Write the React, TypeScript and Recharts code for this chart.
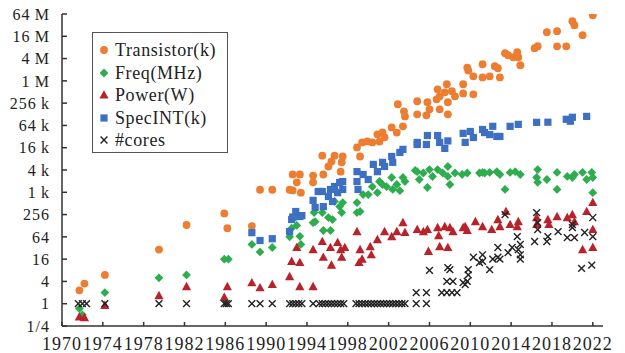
import type { ReactElement } from "react";
import { Legend, Scatter, ScatterChart, XAxis, YAxis } from "recharts";

// Microprocessor trend data.
// Each point is [year, value]; the y axis is log scale (base 2 ticks).
type Pt = [number, number];

const X_TICKS = [1970, 1974, 1978, 1982, 1986, 1990, 1994, 1998, 2002, 2006, 2010, 2014, 2018, 2022];

const Y_TICKS = [
  0.25, 1, 4, 16, 64, 256, 1024, 4096, 16384, 65536, 262144, 1048576, 4194304, 16777216, 67108864,
];
const Y_LABELS = [
  "1/4", "1", "4", "16", "64", "256",
  "1\u2009k", "4\u2009k", "16\u2009k", "64\u2009k", "256\u2009k",
  "1\u2009M", "4\u2009M", "16\u2009M", "64\u2009M",
];

const TRANSISTOR_K: Pt[] = [
  [1971.7, 2.3], [1972.2, 3.5], [1974.2, 6], [1979.5, 29], [1982.2, 134],
  [1985.9, 275], [1986.2, 110], [1988.6, 125], [1989.4, 1200], [1990.6, 1200],
  [1992.3, 1200], [1992.6, 1150], [1992.6, 3100], [1993.3, 3100], [1993.0, 1900],
  [1993.4, 1000], [1994.6, 2900], [1994.6, 1900], [1995.5, 10000], [1995.6, 3100],
  [1996.1, 5100], [1996.4, 7000], [1996.7, 10000], [1997.4, 6600], [1997.5, 9500],
  [1997.3, 3700], [1998.9, 16700], [1999.2, 9500], [1999.4, 22800], [1999.9, 24300],
  [2000.4, 22800], [2000.9, 37600], [2001.1, 24000], [2001.4, 42600], [2001.6, 31200],
  [2002.3, 58000], [2002.8, 42000], [2003.4, 62000], [2002.9, 245000], [2003.5, 158000],
  [2003.6, 115000], [2004.8, 295000], [2004.8, 131000], [2005.7, 123000], [2005.8, 277000],
  [2006.0, 179000], [2006.7, 333000], [2006.8, 620000], [2007.0, 179000], [2007.0, 400000],
  [2007.7, 850000], [2007.5, 515000], [2007.8, 277000], [2007.8, 131000], [2008.2, 550000],
  [2008.5, 400000], [2009.3, 850000], [2009.3, 480000], [2010.3, 455000], [2009.7, 2400000],
  [2009.8, 2000000], [2010.3, 1390000], [2011.2, 1300000], [2011.2, 2950000], [2011.9, 1390000],
  [2012.4, 2600000], [2012.7, 2300000], [2012.9, 1300000], [2013.4, 5860000], [2013.7, 5160000],
  [2014.2, 4560000], [2014.6, 6240000], [2014.7, 4560000], [2014.9, 2770000], [2016.3, 8000000],
  [2016.6, 9050000], [2017.5, 21700000], [2018.5, 23100000], [2018.5, 9000000], [2019.4, 9000000],
  [2020.0, 43000000], [2020.2, 33500000], [2021.0, 18000000], [2022.0, 62000000],
];

const FREQ_MHZ: Pt[] = [
  [1971.7, 0.74], [1972.0, 0.5], [1974.2, 2], [1979.5, 5], [1982.2, 6],
  [1985.9, 16], [1986.3, 16], [1988.6, 40], [1989.4, 25], [1990.6, 33],
  [1992.3, 64], [1992.5, 110], [1992.9, 225], [1993.0, 130], [1993.3, 66],
  [1993.4, 40], [1994.6, 155], [1994.7, 290], [1994.8, 165], [1995.5, 290],
  [1995.6, 95], [1996.1, 212], [1996.3, 95], [1996.5, 188], [1996.7, 580],
  [1997.2, 420], [1997.4, 290], [1997.5, 540], [1998.9, 540], [1998.9, 290],
  [1999.2, 310], [1999.5, 890], [2000.0, 890], [2000.4, 1450], [2000.9, 1000],
  [2001.1, 2000], [2001.4, 1660], [2001.8, 1450], [2002.3, 2570], [2002.4, 1220],
  [2002.8, 1660], [2003.1, 1130], [2003.4, 2570], [2003.6, 2000], [2004.6, 4000],
  [2004.8, 3700], [2005.0, 2270], [2005.4, 3400], [2005.8, 1380], [2006.0, 4200],
  [2006.3, 2730], [2006.8, 4200], [2007.3, 3400], [2007.8, 5100], [2007.8, 2740],
  [2008.0, 1660], [2008.5, 3400], [2009.2, 3100], [2009.7, 3400], [2010.9, 3400],
  [2011.2, 3520], [2011.4, 3400], [2011.9, 3520], [2012.6, 3700], [2012.9, 3100],
  [2013.4, 1220], [2013.9, 3520], [2014.4, 3700], [2014.9, 3100], [2016.6, 4200],
  [2016.5, 2570], [2016.6, 1900], [2017.5, 2270], [2018.5, 3520], [2018.5, 1220],
  [2019.5, 2740], [2020.0, 2570], [2020.2, 3100], [2021.0, 3520], [2021.4, 2270],
  [2021.9, 3520], [2022.0, 2570], [2022.0, 1000],
];

const POWER_W: Pt[] = [
  [1971.7, 0.44], [1972.2, 0.42], [1974.2, 0.9], [1979.5, 1.65], [1982.2, 2.9],
  [1985.9, 1.5], [1986.2, 2.9], [1988.6, 3.7], [1989.4, 2.7], [1990.6, 3.3],
  [1992.3, 5.4], [1992.5, 14], [1993.0, 33], [1993.3, 13], [1993.3, 2.9],
  [1994.6, 29], [1994.6, 2.9], [1995.5, 48], [1995.6, 18], [1996.3, 33],
  [1996.4, 11], [1997.0, 45], [1997.3, 29], [1997.4, 18], [1997.7, 33],
  [1998.9, 89], [1999.2, 29], [1999.4, 16], [1999.1, 13], [2000.2, 35],
  [2000.3, 21], [2000.9, 54], [2001.6, 89], [2002.3, 65], [2002.8, 89],
  [2003.4, 156], [2003.6, 84], [2004.8, 101], [2005.4, 89], [2005.8, 101],
  [2005.9, 26], [2006.8, 114], [2006.9, 69], [2007.0, 35], [2007.5, 121],
  [2007.8, 33], [2008.0, 114], [2008.3, 89], [2009.3, 114], [2009.5, 121],
  [2009.7, 95], [2010.5, 166], [2011.2, 121], [2012.1, 101], [2012.7, 188],
  [2012.9, 121], [2013.5, 310], [2013.9, 138], [2014.6, 121], [2014.7, 166],
  [2016.5, 213], [2016.5, 138], [2017.6, 188], [2017.7, 138], [2018.5, 226],
  [2019.5, 213], [2020.0, 256], [2020.2, 166], [2021.0, 29], [2021.4, 310],
  [2022.0, 543], [2022.0, 101], [2022.0, 33],
];

const SPECINT_K: Pt[] = [
  [1988.6, 83], [1989.4, 51], [1990.6, 57], [1992.3, 89], [1992.5, 188],
  [1992.6, 220], [1992.9, 310], [1993.3, 226], [1993.5, 240], [1994.6, 620],
  [1994.8, 398], [1995.1, 1075], [1995.5, 1075], [1995.6, 420], [1996.1, 790],
  [1996.3, 1220], [1996.5, 577], [1996.7, 1470], [1997.0, 1000], [1997.2, 1890],
  [1997.5, 1220], [1997.5, 2000], [1998.9, 3700], [1998.9, 2000], [1999.0, 1220],
  [1999.5, 3100], [2000.0, 2270], [2000.5, 5800], [2000.9, 3700], [2001.4, 6600],
  [2001.6, 5100], [2002.3, 9500], [2002.4, 6600], [2003.1, 12200], [2003.4, 14800],
  [2004.8, 20000], [2004.8, 22800], [2005.7, 20000], [2005.8, 35000], [2006.8, 35000],
  [2007.0, 22800], [2007.5, 15700], [2007.8, 25000], [2009.3, 40000], [2009.5, 22800],
  [2010.0, 45000], [2010.3, 31000], [2011.2, 51000], [2011.4, 42000], [2011.9, 37000],
  [2012.2, 62000], [2012.6, 33000], [2012.9, 33000], [2013.9, 62000], [2014.7, 70000],
  [2016.5, 79500], [2017.6, 80000], [2019.4, 96000], [2019.8, 85000], [2020.0, 109000],
  [2021.4, 115000],
];

const CORES: Pt[] = [
  [1971.6, 1], [1972.0, 1], [1972.4, 1], [1974.2, 1], [1979.5, 1], [1982.2, 1],
  [1985.9, 1], [1986.1, 1], [1986.3, 1], [1988.6, 1], [1989.4, 1], [1990.6, 1],
  [1992.3, 1], [1992.6, 1], [1992.9, 1], [1993.2, 1], [1993.5, 1], [1994.6, 1],
  [1995.2, 1], [1995.5, 1], [1995.8, 1], [1996.1, 1], [1996.4, 1], [1996.7, 1],
  [1997.0, 1], [1997.3, 1], [1997.6, 1], [1998.8, 1], [1999.1, 1], [1999.4, 1],
  [1999.7, 1], [2000.0, 1], [2000.3, 1], [2000.6, 1], [2000.9, 1], [2001.2, 1],
  [2001.5, 1], [2001.8, 1], [2002.1, 1], [2002.4, 1], [2002.7, 1], [2003.0, 1],
  [2003.3, 1], [2003.6, 1], [2004.7, 1], [2005.7, 1],
  [2004.7, 2], [2005.7, 2], [2007.2, 2], [2007.7, 2], [2008.2, 2], [2008.7, 2],
  [2006.0, 8], [2007.8, 9.4], [2008.0, 8.3], [2007.7, 4], [2008.3, 4],
  [2009.3, 3.7], [2009.5, 3.3], [2009.7, 4], [2009.8, 6], [2009.8, 8.3],
  [2010.3, 18], [2010.9, 13], [2011.2, 21], [2011.2, 14], [2011.9, 8.3],
  [2012.2, 16], [2012.7, 33], [2012.7, 18], [2012.9, 16], [2013.4, 256],
  [2013.7, 24], [2014.1, 33], [2014.6, 65], [2014.9, 40], [2014.7, 29],
  [2014.9, 21], [2014.9, 16], [2016.5, 290], [2016.6, 156], [2016.6, 100],
  [2016.3, 48], [2017.6, 65], [2017.5, 48], [2018.6, 89], [2019.5, 61],
  [2020.0, 138], [2020.0, 114], [2020.2, 61], [2021.2, 84], [2022.0, 213],
  [2022.0, 65], [2020.9, 9], [2021.9, 11],
];

type Kind = "circle" | "diamond" | "triangle" | "square" | "cross";

const SERIES: { name: string; kind: Kind; color: string; data: Pt[] }[] = [
  { name: "Transistor(k)", kind: "circle", color: "#ED7D31", data: TRANSISTOR_K },
  { name: "Freq(MHz)", kind: "diamond", color: "#2EAD4E", data: FREQ_MHZ },
  { name: "Power(W)", kind: "triangle", color: "#B8222A", data: POWER_W },
  { name: "SpecINT(k)", kind: "square", color: "#3D6FC3", data: SPECINT_K },
  { name: "#cores", kind: "cross", color: "#222222", data: CORES },
];

const FONT = "'Liberation Serif', 'Times New Roman', serif";

function Marker({ kind, cx, cy, color }: { kind: Kind; cx: number; cy: number; color: string }): ReactElement {
  switch (kind) {
    case "circle":
      return <circle cx={cx} cy={cy} r={3.9} fill={color} />;
    case "diamond":
      return (
        <polygon
          points={`${cx},${cy - 4.4} ${cx + 4.4},${cy} ${cx},${cy + 4.4} ${cx - 4.4},${cy}`}
          fill={color}
        />
      );
    case "triangle":
      return (
        <polygon
          points={`${cx},${cy - 4.8} ${cx + 4.6},${cy + 3.6} ${cx - 4.6},${cy + 3.6}`}
          fill={color}
        />
      );
    case "square":
      return <rect x={cx - 3.6} y={cy - 3.6} width={7.2} height={7.2} fill={color} />;
    default:
      return (
        <g stroke={color} strokeWidth={1.4}>
          <line x1={cx - 3.4} y1={cy - 3.4} x2={cx + 3.4} y2={cy + 3.4} />
          <line x1={cx - 3.4} y1={cy + 3.4} x2={cx + 3.4} y2={cy - 3.4} />
        </g>
      );
  }
}

function LegendBox(): ReactElement {
  return (
    <div
      style={{
        border: "1px solid #555",
        background: "#fff",
        padding: "6px 0 0 0",
        width: 134,
        height: 113,
        fontFamily: FONT,
        fontSize: 18,
        letterSpacing: 0.6,
        color: "#222",
      }}
    >
      {SERIES.map((s) => (
        <div key={s.name} style={{ display: "flex", alignItems: "center", height: 22.5 }}>
          <svg width={22} height={14} style={{ flex: "none" }}>
            <Marker kind={s.kind} cx={11} cy={7} color={s.color} />
          </svg>
          <span style={{ lineHeight: "22px" }}>{s.name}</span>
        </div>
      ))}
    </div>
  );
}

export default function App(): ReactElement {
  const tickStyle = { fontFamily: FONT, fill: "#222" };
  return (
    <div style={{ position: "absolute", left: 0, top: 0, width: 625, height: 353, background: "#fff" }}>
      <ScatterChart width={625} height={353} margin={{ top: 14, right: 22, bottom: 0, left: 0 }}>
        <XAxis
          type="number"
          dataKey="year"
          domain={[1970, 2023]}
          ticks={X_TICKS}
          interval={0}
          allowDataOverflow
          height={27}
          tickSize={-4}
          tickMargin={15}
          stroke="#333"
          strokeWidth={1.5}
          tick={{ ...tickStyle, fontSize: 18, letterSpacing: 1 }}
        />
        <YAxis
          type="number"
          dataKey="v"
          scale="log"
          domain={[0.25, 67108864]}
          ticks={Y_TICKS}
          interval={0}
          allowDataOverflow
          width={62}
          tickSize={-5}
          tickMargin={17}
          stroke="#333"
          strokeWidth={1.5}
          tick={{ ...tickStyle, fontSize: 16, letterSpacing: 1 }}
          tickFormatter={(v: number) => Y_LABELS[Y_TICKS.indexOf(v)] ?? String(v)}
        />
        <Legend
          layout="horizontal"
          verticalAlign="middle"
          align="center"
          content={() => <LegendBox />}
          wrapperStyle={{ left: 92, top: 32, width: 136, height: 121 }}
        />
        {SERIES.map((s) => (
          <Scatter
            key={s.name}
            name={s.name}
            data={s.data.map(([year, v]) => ({ year, v }))}
            isAnimationActive={false}
            shape={(p: { cx: number; cy: number }) => (
              <Marker kind={s.kind} cx={p.cx} cy={p.cy} color={s.color} />
            )}
          />
        ))}
      </ScatterChart>
    </div>
  );
}
